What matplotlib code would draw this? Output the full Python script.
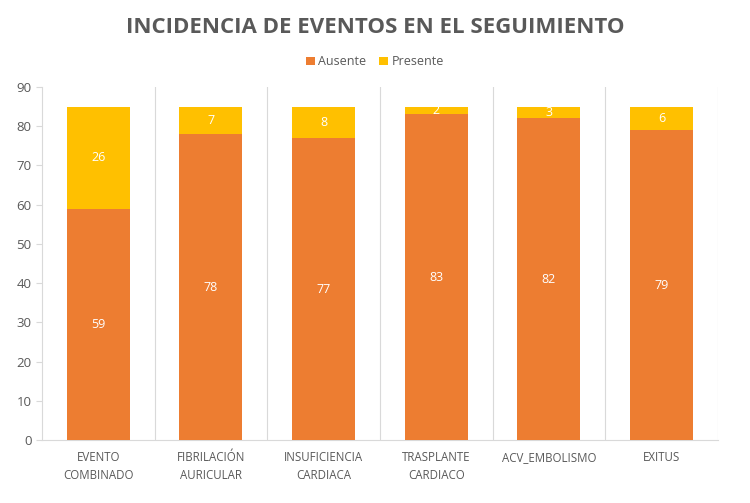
import numpy as np
import matplotlib
matplotlib.use("Agg")
import matplotlib.pyplot as plt

categories = ["EVENTO\nCOMBINADO", "FIBRILACIÓN\nAURICULAR", "INSUFICIENCIA\nCARDIACA",
              "TRASPLANTE\nCARDIACO", "ACV_EMBOLISMO", "EXITUS"]
ausente = [59, 78, 77, 83, 82, 79]
presente = [26, 7, 8, 2, 3, 6]

c_aus = "#ED7D31"
c_pre = "#FFC000"
grey = "#595959"

plt.rcParams['font.family'] = ['Open Sans', 'DejaVu Sans']

fig = plt.figure(figsize=(7.5, 5.03), dpi=100)
ax = fig.add_axes([0.056, 0.125, 0.901, 0.702])

x = np.arange(len(categories))
w = 0.56
b1 = ax.bar(x, ausente, w, color=c_aus, label="Ausente", zorder=3)
b2 = ax.bar(x, presente, w, bottom=ausente, color=c_pre, label="Presente", zorder=3)

for i in range(len(x)):
    ax.text(x[i], ausente[i] / 2, str(ausente[i]), ha="center", va="center",
            color="white", fontsize=9, zorder=4)
    ax.text(x[i], ausente[i] + presente[i] / 2, str(presente[i]), ha="center", va="center",
            color="white", fontsize=9, zorder=4)

ax.set_xlim(-0.5, len(x) - 0.5)
ax.set_ylim(0, 90)
ax.set_yticks(range(0, 91, 10))
ax.set_xticks(x)
ax.set_xticklabels(categories, fontsize=8.3, color=grey, linespacing=1.45)

# vertical separators between categories
for b in np.arange(0.5, len(x) - 0.5, 1):
    ax.axvline(b, color="#D9D9D9", lw=0.8, zorder=1)
ax.axvline(len(x) - 0.5, color="#D9D9D9", lw=0.8, zorder=1)

ax.tick_params(axis="y", labelsize=9.5, colors=grey, length=4, color="#D9D9D9")
ax.tick_params(axis="x", length=0, pad=8)
for s in ["top", "right"]:
    ax.spines[s].set_visible(False)
ax.spines["left"].set_color("#D9D9D9")
ax.spines["bottom"].set_color("#D9D9D9")

fig.text(0.5, 0.945, "INCIDENCIA DE EVENTOS EN EL SEGUIMIENTO", ha="center", va="center",
         fontsize=16, fontweight="bold", color=grey)
fig.legend(handles=[b1, b2], loc="center", bbox_to_anchor=(0.5, 0.877), ncol=2, frameon=False,
           fontsize=9, handlelength=0.7, handleheight=0.7, handletextpad=0.3, columnspacing=1.0,
           labelcolor=grey)

fig.savefig("out.png", dpi=100)
